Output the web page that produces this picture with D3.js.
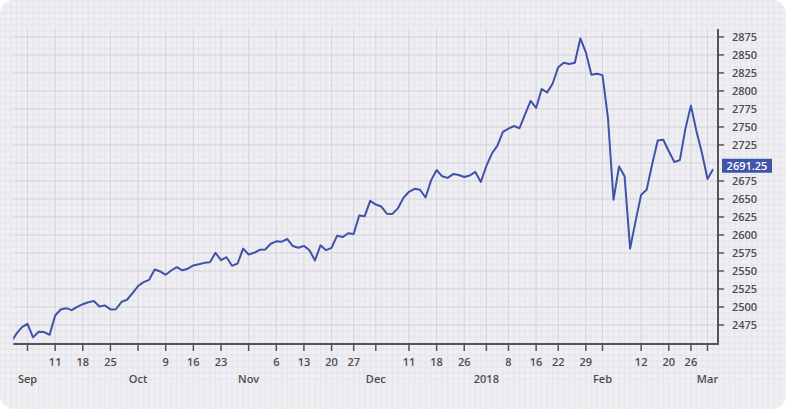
<!DOCTYPE html>
<html>
<head>
<meta charset="utf-8">
<script src="https://cdn.jsdelivr.net/npm/d3@7"></script>
<style>
  html, body { margin: 0; padding: 0; background: #fff; }
  svg { display: block; }
  text { font-family: "Open Sans", sans-serif; }
</style>
</head>
<body>
<div id="chart"></div>
<script>
// trading days shown (weekends and market holidays skipped)
const dates = [
  '2017-08-29','2017-08-30','2017-08-31',
  '2017-09-01','2017-09-05','2017-09-06','2017-09-07','2017-09-08','2017-09-11','2017-09-12','2017-09-13','2017-09-14','2017-09-15',
  '2017-09-18','2017-09-19','2017-09-20','2017-09-21','2017-09-22','2017-09-25','2017-09-26','2017-09-27','2017-09-28','2017-09-29',
  '2017-10-02','2017-10-03','2017-10-04','2017-10-05','2017-10-06','2017-10-09','2017-10-10','2017-10-11','2017-10-12','2017-10-13',
  '2017-10-16','2017-10-17','2017-10-18','2017-10-19','2017-10-20','2017-10-23','2017-10-24','2017-10-25','2017-10-26','2017-10-27',
  '2017-10-30','2017-10-31',
  '2017-11-01','2017-11-02','2017-11-03','2017-11-06','2017-11-07','2017-11-08','2017-11-09','2017-11-10','2017-11-13','2017-11-14',
  '2017-11-15','2017-11-16','2017-11-17','2017-11-20','2017-11-21','2017-11-22','2017-11-24','2017-11-27','2017-11-28','2017-11-29',
  '2017-11-30',
  '2017-12-01','2017-12-04','2017-12-05','2017-12-06','2017-12-07','2017-12-08','2017-12-11','2017-12-12','2017-12-13','2017-12-14',
  '2017-12-15','2017-12-18','2017-12-19','2017-12-20','2017-12-21','2017-12-22','2017-12-26','2017-12-27','2017-12-28','2017-12-29',
  '2018-01-02','2018-01-03','2018-01-04','2018-01-05','2018-01-08','2018-01-09','2018-01-10','2018-01-11','2018-01-12','2018-01-16',
  '2018-01-17','2018-01-18','2018-01-19','2018-01-22','2018-01-23','2018-01-24','2018-01-25','2018-01-26','2018-01-29','2018-01-30',
  '2018-01-31',
  '2018-02-01','2018-02-02','2018-02-05','2018-02-06','2018-02-07','2018-02-08','2018-02-09','2018-02-12','2018-02-13','2018-02-14',
  '2018-02-15','2018-02-16','2018-02-20','2018-02-21','2018-02-22','2018-02-23','2018-02-26','2018-02-27','2018-02-28',
  '2018-03-01','2018-03-02'
];

const closes = [
  2451.00, 2463.00, 2472.00,
  2476.55, 2457.85, 2465.54, 2465.10, 2461.43, 2488.11, 2496.48, 2498.37, 2495.62, 2500.23,
  2503.87, 2506.65, 2508.24, 2500.60, 2502.22, 2496.66, 2496.84, 2507.04, 2510.06, 2519.36,
  2529.12, 2534.58, 2537.74, 2552.07, 2549.33, 2544.73, 2550.64, 2555.24, 2550.93, 2553.17,
  2557.64, 2559.36, 2561.26, 2562.10, 2575.21, 2564.98, 2569.13, 2557.15, 2560.40, 2581.07,
  2572.83, 2575.26,
  2579.36, 2579.85, 2587.84, 2591.13, 2590.64, 2594.38, 2584.62, 2582.30, 2584.84, 2578.87,
  2564.62, 2585.64, 2578.85, 2582.14, 2599.03, 2597.08, 2602.42, 2601.42, 2627.04, 2626.07,
  2647.58,
  2642.22, 2639.44, 2629.57, 2629.27, 2636.98, 2651.50, 2659.99, 2664.11, 2662.85, 2652.01,
  2675.81, 2690.16, 2681.47, 2679.25, 2684.57, 2683.34, 2680.50, 2682.62, 2687.54, 2673.61,
  2695.81, 2713.06, 2723.99, 2743.15, 2747.71, 2751.29, 2748.23, 2767.56, 2786.24, 2776.42,
  2802.56, 2798.03, 2810.30, 2832.97, 2839.13, 2837.54, 2839.25, 2872.87, 2853.53, 2822.43,
  2823.81,
  2821.98, 2762.13, 2648.94, 2695.14, 2681.66, 2581.00, 2619.55, 2656.00, 2662.94, 2698.63,
  2731.20, 2732.22, 2716.26, 2701.33, 2703.96, 2747.30, 2779.60, 2744.28, 2713.83,
  2677.67, 2691.25
];

const tickDates = [
  '2017-09-01','2017-09-11','2017-09-18','2017-09-25','2017-10-02','2017-10-09','2017-10-16','2017-10-23',
  '2017-10-30','2017-11-06','2017-11-13','2017-11-20','2017-11-27','2017-12-01','2017-12-11','2017-12-18',
  '2017-12-26','2018-01-02','2018-01-08','2018-01-16','2018-01-22','2018-01-29','2018-02-01','2018-02-12',
  '2018-02-20','2018-02-26','2018-03-01'
];
const tickLabels = [
  'Sep','11','18','25','Oct','9','16','23','Nov','6','13','20','27','Dec','11','18',
  '26','2018','8','16','22','29','Feb','12','20','26','Mar'
];
const monthLabels = ['Sep','Oct','Nov','Dec','2018','Feb','Mar'];

const yTicks = d3.range(2475, 2876, 25);

const W = 786, H = 409;
const plot = { left: 13.3, right: 718, top: 29, bottom: 344 };

const data = dates.map((d, i) => ({ i, date: d, close: closes[i] }));
const indexOf = new Map(dates.map((d, i) => [d, i]));
const last = data[data.length - 1];

// index based x scale, visible window cuts the first days
const x = d3.scaleLinear().domain([0.43, 127.9]).range([plot.left, plot.right]);
const y = d3.scaleLinear().domain([2448.6, 2886]).range([plot.bottom, plot.top]);

const badgeTop = y(last.close) - 10.5, badgeH = 14;

const svg = d3.select('#chart').append('svg')
  .attr('width', W)
  .attr('height', H);

// card
svg.append('rect')
  .attr('x', 0).attr('y', 0)
  .attr('width', W).attr('height', H)
  .attr('rx', 14)
  .attr('fill', '#efeef3');

svg.append('clipPath').attr('id', 'card')
  .append('rect').attr('width', W).attr('height', H).attr('rx', 14);

// fine graph-paper grid over the whole card
const minor = svg.append('g')
  .attr('clip-path', 'url(#card)')
  .attr('stroke', '#e3e2ea')
  .attr('stroke-width', 0.8);

minor.selectAll('line.v')
  .data(d3.range(-3, 140))
  .join('line')
  .attr('class', 'v')
  .attr('x1', d => x(d)).attr('x2', d => x(d))
  .attr('y1', 0).attr('y2', H);

minor.selectAll('line.h')
  .data(d3.range(2400, 2950, 25 / 3))
  .join('line')
  .attr('class', 'h')
  .attr('x1', 0).attr('x2', W)
  .attr('y1', d => y(d)).attr('y2', d => y(d));

// major grid at ticks
const major = svg.append('g')
  .attr('stroke', '#d6d5de')
  .attr('stroke-width', 1);

major.selectAll('line.v')
  .data(tickDates)
  .join('line')
  .attr('class', 'v')
  .attr('x1', d => x(indexOf.get(d))).attr('x2', d => x(indexOf.get(d)))
  .attr('y1', plot.top).attr('y2', plot.bottom);

major.selectAll('line.h')
  .data(yTicks)
  .join('line')
  .attr('class', 'h')
  .attr('x1', plot.left).attr('x2', plot.right)
  .attr('y1', d => y(d)).attr('y2', d => y(d));

// line
svg.append('clipPath').attr('id', 'plot')
  .append('rect')
  .attr('x', plot.left).attr('y', plot.top)
  .attr('width', plot.right - plot.left).attr('height', plot.bottom - plot.top);

const line = d3.line()
  .x(d => x(d.i))
  .y(d => y(d.close));

svg.append('path')
  .datum(data)
  .attr('clip-path', 'url(#plot)')
  .attr('fill', 'none')
  .attr('stroke', '#3f53a8')
  .attr('stroke-width', 2)
  .attr('stroke-linejoin', 'round')
  .attr('d', line);

// bottom axis
const xAxis = svg.append('g');
xAxis.append('line')
  .attr('x1', plot.left).attr('x2', plot.right + 1)
  .attr('y1', plot.bottom).attr('y2', plot.bottom)
  .attr('stroke', '#555').attr('stroke-width', 2);

const xt = xAxis.selectAll('g.tick')
  .data(tickDates.map((d, k) => ({ d, label: tickLabels[k] })))
  .join('g')
  .attr('class', 'tick')
  .attr('transform', t => `translate(${x(indexOf.get(t.d))},0)`);

xt.append('line')
  .attr('y1', plot.bottom).attr('y2', plot.bottom + 7)
  .attr('stroke', '#555').attr('stroke-width', 1.5);

xt.append('text')
  .attr('y', t => monthLabels.includes(t.label) ? 383 : 366)
  .attr('text-anchor', 'middle')
  .attr('font-size', 11)
  .attr('font-weight', 600)
  .attr('fill', '#4d4d4d')
  .text(t => t.label);

// right axis
const yAxis = svg.append('g');
yAxis.append('line')
  .attr('x1', plot.right).attr('x2', plot.right)
  .attr('y1', plot.top).attr('y2', plot.bottom + 1)
  .attr('stroke', '#555').attr('stroke-width', 2);

// ticks hidden behind the price badge are not drawn
const visibleTicks = yTicks.filter(d => y(d) < badgeTop - 4 || y(d) > badgeTop + badgeH + 4);

const yt = yAxis.selectAll('g.tick')
  .data(visibleTicks)
  .join('g')
  .attr('class', 'tick')
  .attr('transform', d => `translate(0,${y(d)})`);

yt.append('line')
  .attr('x1', plot.right).attr('x2', plot.right + 6)
  .attr('stroke', '#555').attr('stroke-width', 1.5);

yt.append('text')
  .attr('x', 732)
  .attr('dy', '0.36em')
  .attr('font-size', 11)
  .attr('font-weight', 600)
  .attr('fill', '#4d4d4d')
  .text(d => d);

// last price badge
const badge = svg.append('g')
  .attr('transform', `translate(722,${badgeTop})`);
badge.append('rect')
  .attr('width', 50).attr('height', badgeH)
  .attr('fill', '#3f53a8');
badge.append('text')
  .attr('x', 25).attr('y', badgeH / 2)
  .attr('dy', '0.36em')
  .attr('text-anchor', 'middle')
  .attr('font-size', 11)
  .attr('font-weight', 600)
  .attr('fill', '#fff')
  .text(last.close.toFixed(2));
</script>
</body>
</html>
